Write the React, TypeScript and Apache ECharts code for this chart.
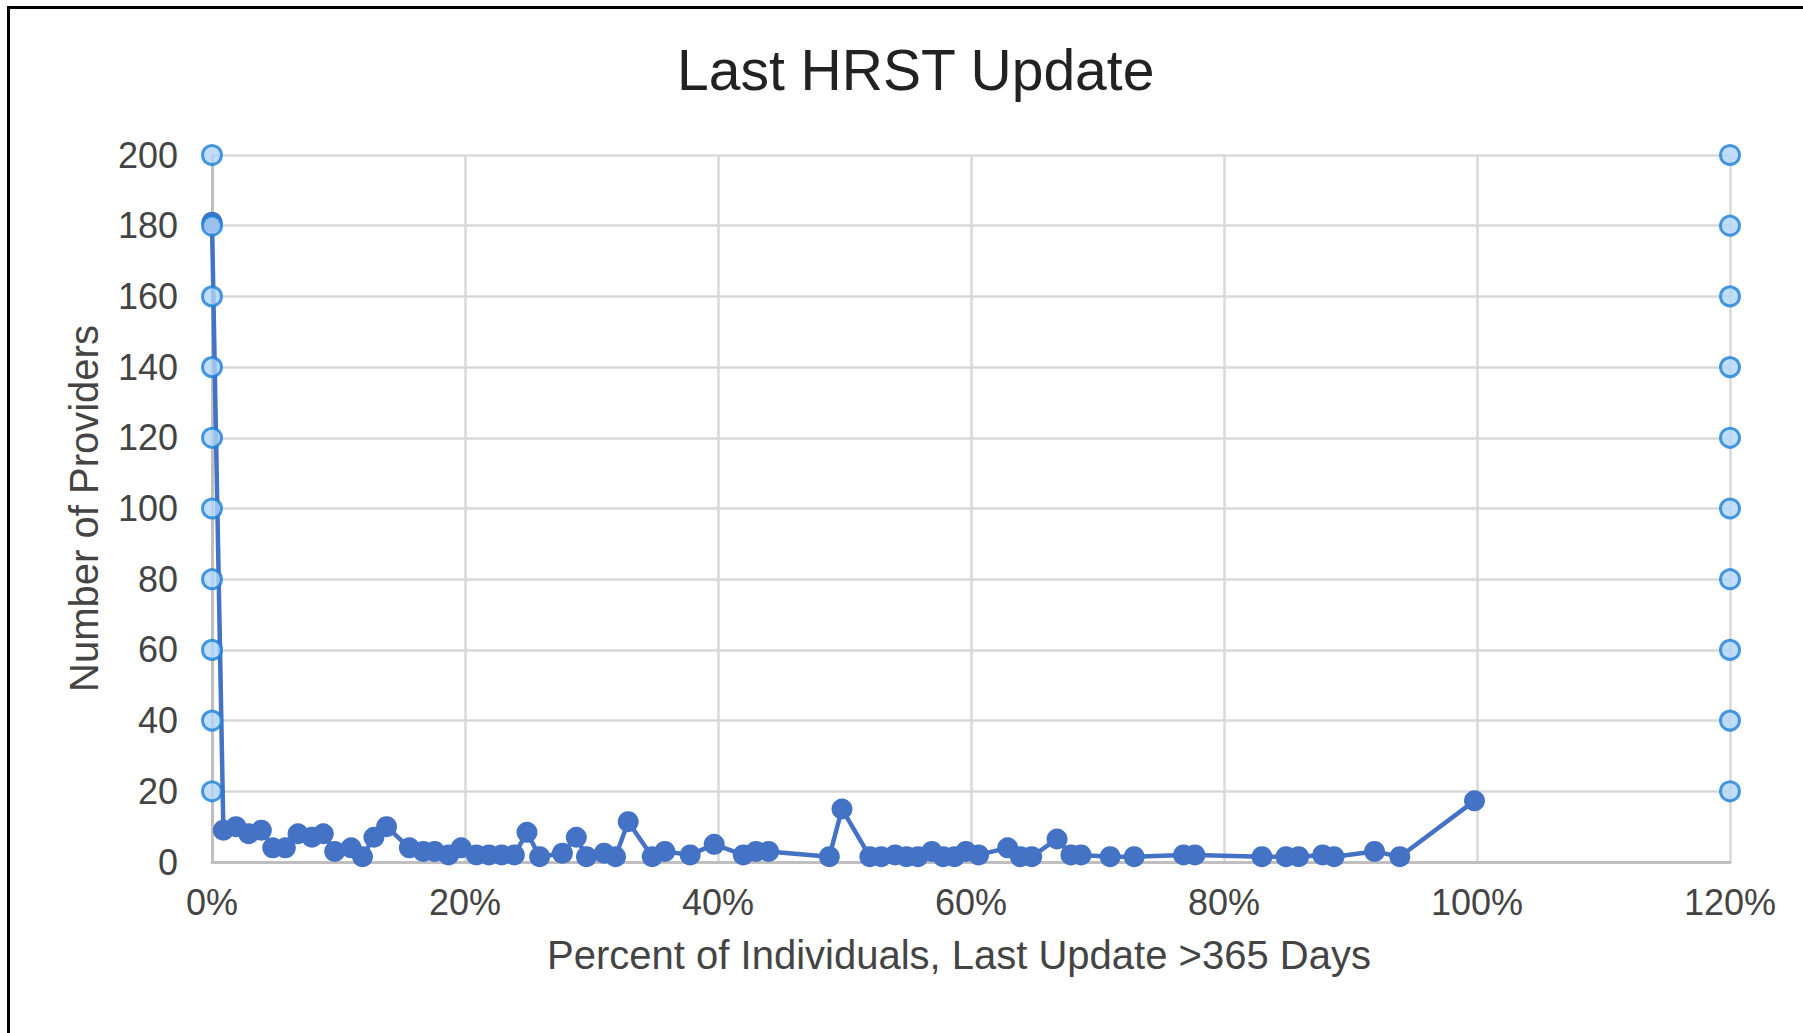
import React, { useEffect, useRef } from "react";
import * as echarts from "echarts";

// Percent of individuals whose last update is >365 days (x, in %)
const percentValues: number[] = [
  0, 0.9, 1.9, 2.9, 3.9, 4.8, 5.8, 6.8, 7.9, 8.8,
  9.7, 11.0, 11.9, 12.8, 13.8, 15.6, 16.7, 17.6, 18.7, 19.7,
  20.9, 21.9, 22.9, 23.9, 24.9, 25.9, 27.7, 28.8, 29.6, 31.0,
  31.9, 32.9, 34.8, 35.8, 37.8, 39.7, 42.0, 43.0, 44.0, 48.8,
  49.8, 52.0, 52.9, 54.0, 54.9, 55.8, 56.9, 57.8, 58.7, 59.6,
  60.6, 62.9, 63.9, 64.8, 66.8, 67.9, 68.7, 71.0, 72.9, 76.8,
  77.7, 83.0, 84.9, 85.9, 87.8, 88.7, 91.9, 93.9, 99.8,
];

// Number of providers (y)
const providerCounts: number[] = [
  181, 9, 10, 8, 9, 4, 4, 8, 7, 8,
  3, 4, 1.5, 7, 10, 4, 3, 3, 2, 4,
  2, 2, 2, 2, 8.4, 1.5, 2.5, 7, 1.5, 2.5,
  1.5, 11.4, 1.5, 3, 2, 5, 2, 3, 3, 1.5,
  15, 1.5, 1.5, 2, 1.5, 1.5, 3, 1.5, 1.5, 3,
  2, 4, 1.5, 1.5, 6.5, 2, 2, 1.5, 1.5, 2,
  2, 1.5, 1.5, 1.5, 2, 1.5, 3, 1.5, 17.3,
];

// Selection handles shown on both vertical edges of the plot
const handleXs: number[] = [0, 120];
const handleYs: number[] = [20, 40, 60, 80, 100, 120, 140, 160, 180, 200];

const FONT = "'Liberation Sans', Arial, sans-serif";

export default function App() {
  const ref = useRef<HTMLDivElement>(null);

  useEffect(() => {
    if (!ref.current) return;
    const chart = echarts.init(ref.current, undefined, { renderer: "svg" });

    const lineData = percentValues.map((x, i) => [x, providerCounts[i]]);
    const handleData: number[][] = [];
    handleXs.forEach((x) => handleYs.forEach((y) => handleData.push([x, y])));

    chart.setOption({
      animation: false,
      backgroundColor: "#ffffff",
      title: {
        text: "Last HRST Update",
        left: 672,
        top: 36,
        textStyle: {
          fontFamily: FONT,
          fontSize: 57,
          fontWeight: "normal",
          color: "#222222",
        },
      },
      grid: { left: 212, right: 73, top: 155, bottom: 171, containLabel: false },
      xAxis: {
        type: "value",
        min: 0,
        max: 120,
        interval: 20,
        name: "Percent of Individuals, Last Update >365 Days",
        nameLocation: "middle",
        nameGap: 73,
        nameTextStyle: {
          fontFamily: FONT,
          fontSize: 40,
          color: "#444444",
          padding: [0, 24, 0, 0],
        },
        axisLine: { show: true, onZero: false, lineStyle: { color: "#bfbfbf", width: 3 } },
        axisTick: { show: false },
        axisLabel: {
          formatter: "{value}%",
          fontFamily: FONT,
          fontSize: 36,
          color: "#444444",
          margin: 22,
        },
        splitLine: { show: true, lineStyle: { color: "#d9d9d9", width: 2.5 } },
      },
      yAxis: {
        type: "value",
        min: 0,
        max: 200,
        interval: 20,
        name: "Number of Providers",
        nameLocation: "middle",
        nameGap: 108,
        nameTextStyle: { fontFamily: FONT, fontSize: 40, color: "#444444" },
        axisLine: { show: true, onZero: false, lineStyle: { color: "#bfbfbf", width: 3 } },
        axisTick: { show: false },
        axisLabel: {
          fontFamily: FONT,
          fontSize: 36,
          color: "#444444",
          margin: 34,
        },
        splitLine: { show: true, lineStyle: { color: "#d9d9d9", width: 2.5 } },
      },
      graphic: [
        {
          type: "line",
          shape: { x1: 7, y1: 7.5, x2: 1803, y2: 7.5 },
          style: { stroke: "#000000", lineWidth: 3 },
        },
        {
          type: "line",
          shape: { x1: 8.5, y1: 6, x2: 8.5, y2: 1033 },
          style: { stroke: "#000000", lineWidth: 3 },
        },
      ],
      series: [
        {
          type: "line",
          data: lineData,
          clip: false,
          symbol: "circle",
          symbolSize: 21,
          lineStyle: { color: "#4472c4", width: 4.5 },
          itemStyle: { color: "#4472c4" },
          z: 3,
        },
        {
          type: "scatter",
          data: handleData,
          clip: false,
          symbol: "circle",
          symbolSize: 19,
          itemStyle: { color: "#b0d4f7", borderColor: "#1a80d8", borderWidth: 3 },
          z: 5,
        },
      ],
    });

    return () => chart.dispose();
  }, []);

  return (
    <div
      ref={ref}
      style={{ position: "fixed", left: 0, top: 0, width: 1803, height: 1033 }}
    />
  );
}
